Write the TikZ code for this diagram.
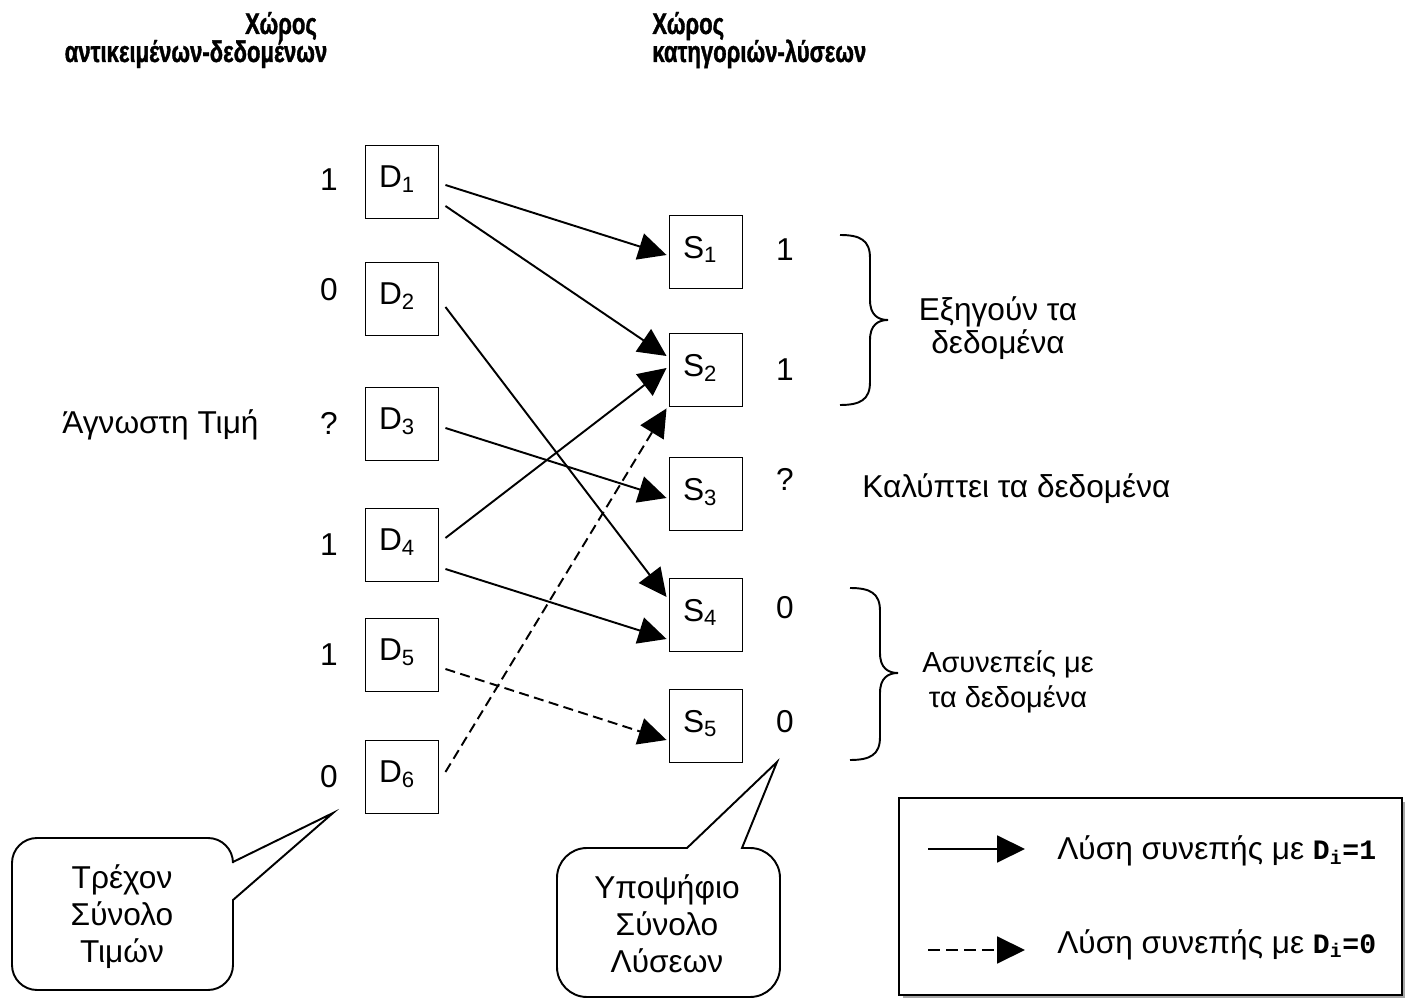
\documentclass[tikz,border=0pt]{standalone}
\usepackage{fontspec}
\setmainfont{Liberation Sans}
\setmonofont{Liberation Mono}
\newfontfamily\titlefont[FakeStretch=0.74,FakeBold=1.2]{Liberation Sans Bold}
\usetikzlibrary{arrows.meta,calc}

\newcommand{\monoidx}[1]{{\fontsize{16}{19}\selectfont\ttfamily\bfseries D\textsubscript{i}=#1}}

\tikzset{
	txt/.style={inner sep=0pt, font=\fontsize{18}{21}\selectfont},
	title/.style={inner sep=0pt, font=\titlefont\fontsize{17}{19}\selectfont},
	box/.style={draw, line width=1.1pt, minimum size=1.46cm, inner sep=0pt,
		text width=0.92cm, align=left, text depth=0.2cm, font=\fontsize{18}{21}\selectfont},
	conn/.style={line width=1.1pt, -{Triangle[length=0.56cm,width=0.54cm]}},
	dashconn/.style={conn, dash pattern=on 0.2cm off 0.11cm},
}

\begin{document}
\begin{tikzpicture}[x=0.02cm,y=-0.02cm]
		\useasboundingbox (0,0) rectangle (1424,999);
		% titles
		\node[title,anchor=base] (t1a) at (281,34) {Χώρος};
		\node[title,anchor=base] (t1b) at (196,62) {αντικειμένων-δεδομένων};
		\node[title,anchor=base west] (t2a) at (652,34) {Χώρος};
		\node[title,anchor=base west] (t2b) at (652,62) {κατηγοριών-λύσεων};
		
		% data and solution boxes
		\foreach \i/\y in {1/182,2/299,3/424,4/545,5/655,6/777}
			\node[box] (d\i) at (402,\y) {D\textsubscript{\i}};
		\foreach \i/\y in {1/252,2/370,3/494,4/615,5/726}
			\node[box] (s\i) at (706,\y) {S\textsubscript{\i}};
		
		% values
		\foreach \i/\y/\v in {1/180/1,2/290/0,3/423/?,4/545/1,5/655/1,6/777/0}
			\node[txt] (vd\i) at (329,\y) {\v};
		\foreach \i/\y/\v in {1/250/1,2/370/1,3/479/?,4/608/0,5/722/0}
			\node[txt] (vs\i) at (785,\y) {\v};
		\node[txt,anchor=base west] (unk) at (62,434) {Άγνωστη Τιμή};
		
		% arrows
		\draw[conn] ($(d1.east)+(6,3)$) -- ($(s1.west)+(-2,3)$);
		\draw[conn] ($(d1.east)+(6,24)$) -- ($(s2.west)+(-2,-14)$);
		\draw[conn] ($(d2.east)+(6,8)$) -- ($(s4.west)+(-2,-18)$);
		\draw[conn] ($(d3.east)+(6,4)$) -- ($(s3.west)+(-2,4)$);
		\draw[conn] ($(d4.east)+(6,-7)$) -- ($(s2.west)+(-2,-2)$);
		\draw[conn] ($(d4.east)+(6,24)$) -- ($(s4.west)+(-2,24)$);
		\draw[dashconn] ($(d5.east)+(6,14)$) -- ($(s5.west)+(-2,14)$);
		\draw[dashconn] ($(d6.east)+(6,-5)$) -- ($(s2.south west)+(-2,1)$);
		
		% braces
		\draw[line width=1.1pt] (840,235) .. controls (860,235) and (870,240) .. (870,258) -- (870,300)
			.. controls (870,315) and (878,320) .. (888,320) .. controls (878,320) and (870,325) .. (870,340)
			-- (870,382) .. controls (870,400) and (860,405) .. (840,405);
		\draw[line width=1.1pt] (850,588) .. controls (870,588) and (880,593) .. (880,611) -- (880,653)
			.. controls (880,668) and (888,673) .. (898,673) .. controls (888,673) and (880,678) .. (880,693)
			-- (880,737) .. controls (880,755) and (870,760) .. (850,760);
		\node[txt,align=center,font=\fontsize{18}{19}\selectfont] (expl) at (998,328) {Εξηγούν τα\\δεδομένα};
		\node[txt,anchor=base west] (cover) at (862,498) {Καλύπτει τα δεδομένα};
		\node[txt,align=center,font=\fontsize{16.5}{20}\selectfont] (incons) at (1008,682) {Ασυνεπείς με\\τα δεδομένα};
		
		% callouts
		\draw[line width=1.1pt] (233,900) [rounded corners=0.5cm] -- (233,990) -- (12,990) -- (12,838)
			-- (233,838) [sharp corners] -- (233,862) -- (333,813) -- cycle;
		\node[txt,align=center] (cur) at (122,917) {Τρέχον\\Σύνολο\\Τιμών};
		\draw[line width=1.1pt] (742,848) [rounded corners=0.6cm] -- (780,848) -- (780,997) -- (557,997)
			-- (557,848) [sharp corners] -- (687,848) -- (777,762) -- cycle;
		\node[txt,align=center] (cand) at (667,924) {Υποψήφιο\\Σύνολο\\Λύσεων};
		
		% legend
		\fill[gray!70] (903,802) rectangle (1405,998);
		\draw[line width=1.1pt,fill=white] (899,798) rectangle (1402,995);
		\coordinate (la1) at (928,849);
		\coordinate (lb1) at (1025,849);
		\coordinate (la2) at (928,950);
		\coordinate (lb2) at (1025,950);
		\draw[conn] (la1) -- (lb1);
		\draw[conn, dash pattern=on 0.24cm off 0.12cm] (la2) -- (lb2);
		\node[txt,anchor=base west] (leg1) at (1057,860) {Λύση συνεπής με \monoidx{1}};
		\node[txt,anchor=base west] (leg2) at (1057,953) {Λύση συνεπής με \monoidx{0}};
\end{tikzpicture}
\end{document}
